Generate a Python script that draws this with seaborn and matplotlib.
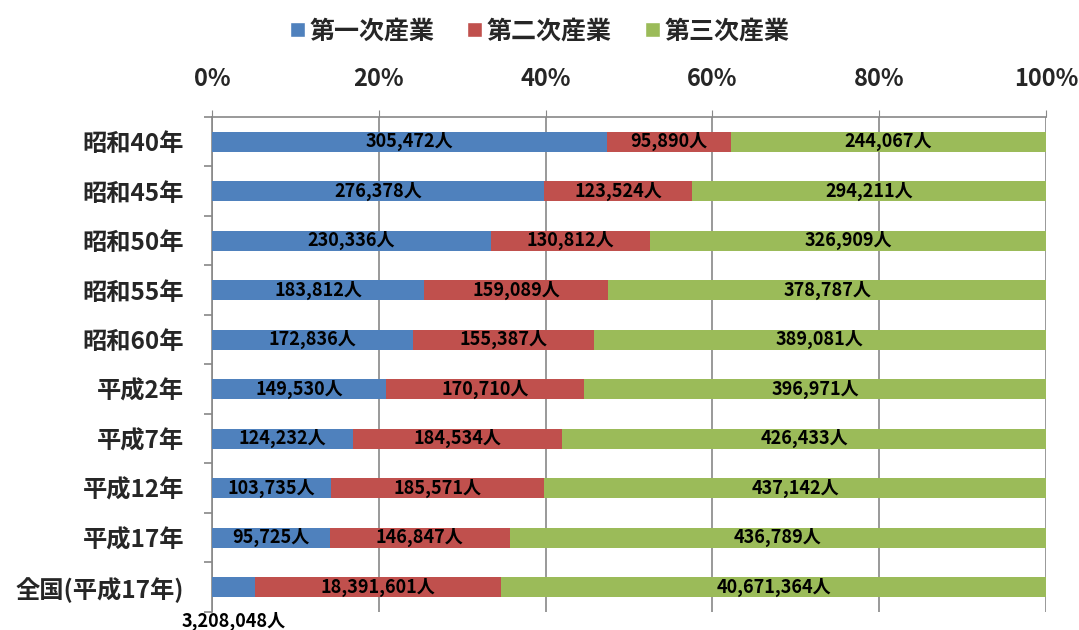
import numpy as np
import pandas as pd
import seaborn as sns
import matplotlib.pyplot as plt
from matplotlib.patches import Patch

# 産業別就業者数
years = ['昭和40年', '昭和45年', '昭和50年', '昭和55年', '昭和60年',
         '平成2年', '平成7年', '平成12年', '平成17年', '全国(平成17年)']
primary = [305472, 276378, 230336, 183812, 172836, 149530, 124232, 103735, 95725, 3208048]
secondary = [95890, 123524, 130812, 159089, 155387, 170710, 184534, 185571, 146847, 18391601]
tertiary = [244067, 294211, 326909, 378787, 389081, 396971, 426433, 437142, 436789, 40671364]
series = ['第一次産業', '第二次産業', '第三次産業']
colors = ['#4F81BD', '#C0504D', '#9BBB59']

df = pd.DataFrame({'year': years, 'p1': primary, 'p2': secondary, 'p3': tertiary})
total = df[['p1', 'p2', 'p3']].sum(axis=1)
df['s1'] = df['p1'] / total * 100
df['s2'] = df['p2'] / total * 100
df['s3'] = df['p3'] / total * 100
df['c1'] = df['s1']
df['c2'] = df['s1'] + df['s2']
df['c3'] = df['c2'] + df['s3']

sns.set_style('white')
plt.rcParams['font.family'] = ['Noto Sans CJK JP', 'DejaVu Sans']
plt.rcParams['font.weight'] = 'bold'

fig = plt.figure(figsize=(10.79, 6.3), dpi=100)
ax = fig.add_axes([0.1965, 0.0286, 0.7729, 0.7857])

# 積み上げ（後ろから順に重ねる）
for col, c in zip(['c3', 'c2', 'c1'], colors[::-1]):
    sns.barplot(data=df, x=col, y='year', orient='h', color=c, width=0.41,
                saturation=1, linewidth=0, ax=ax, zorder=3)

ax.set_xlim(0, 100)
ax.set_ylim(len(years) - 0.5, -0.5)
ax.set_xlabel('')
ax.set_ylabel('')

# x軸を上に
ax.xaxis.tick_top()
ax.set_xticks(range(0, 101, 20))
ax.set_xticklabels([f'{v}%' for v in range(0, 101, 20)], fontsize=17, fontweight='bold')
ax.tick_params(axis='x', length=5, color='#888888', pad=14)
ax.grid(axis='x', color='#888888', linewidth=1.2, zorder=0)
ax.set_axisbelow(True)

ax.set_yticks(range(len(years)))
ax.set_yticklabels(years, fontsize=17.5, fontweight='bold')
ax.set_yticks(np.arange(-0.5, len(years), 1), minor=True)
ax.tick_params(axis='y', which='major', length=0, pad=20)
ax.tick_params(axis='y', which='minor', length=6, color='#888888', width=1.2, left=True)

for s in ['right', 'bottom']:
    ax.spines[s].set_visible(False)
for s in ['top', 'left']:
    ax.spines[s].set_color('#888888')
    ax.spines[s].set_linewidth(1.2)

# ラベル
for i, r in df.iterrows():
    starts = [0, r['c1'], r['c2']]
    widths = [r['s1'], r['s2'], r['s3']]
    vals = [r['p1'], r['p2'], r['p3']]
    for k in range(3):
        x = starts[k] + widths[k] / 2
        y = i
        if i == len(years) - 1 and k == 0:
            y = i + 0.7
        ax.text(x, y, f'{int(vals[k]):,}人', ha='center', va='center',
                fontsize=13, fontweight='bold', color='black', zorder=5, clip_on=False)

handles = [Patch(facecolor=c, label=s) for c, s in zip(colors, series)]
fig.legend(handles=handles, loc='upper center', bbox_to_anchor=(0.5, 1.005), ncol=3,
           frameon=False, prop={'size': 18, 'weight': 'bold'},
           handlelength=0.6, handleheight=0.6, handletextpad=0.2, columnspacing=1.3)

fig.savefig('out.png', dpi=100)
